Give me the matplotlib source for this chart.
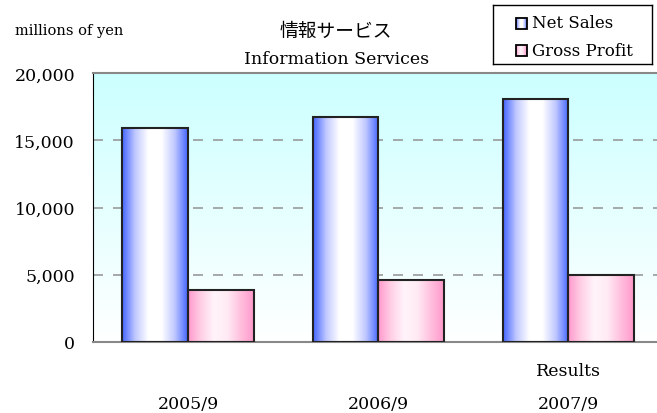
import matplotlib
matplotlib.use('Agg')
import matplotlib.pyplot as plt
import numpy as np
from matplotlib.colors import LinearSegmentedColormap
from matplotlib.patches import Rectangle

# values (millions of yen)
periods = ['2005/9', '2006/9', '2007/9']
net_sales = [15900, 16700, 18100]
gross_profit = [3900, 4600, 5000]

plt.rcParams['font.family'] = ['DejaVu Serif', 'Noto Sans CJK JP']

blue_cm = LinearSegmentedColormap.from_list('b', ['#4466ff', '#c0c8ff', '#ffffff', '#ffffff', '#c0c8ff', '#4466ff'])
pink_cm = LinearSegmentedColormap.from_list('p', ['#ff99cc', '#ffd0e6', '#fff4fa', '#ffeaf4', '#ffc0de', '#ff99cc'])
bg_cm = LinearSegmentedColormap.from_list('bg', ['#ffffff', '#ccffff'])


def fill_gradient(ax, bars, cmap):
    grad = np.linspace(0, 1, 256).reshape(1, -1)
    for b in bars:
        x, y = b.get_x(), b.get_y()
        w, h = b.get_width(), b.get_height()
        im = ax.imshow(grad, cmap=cmap, aspect='auto', extent=[x, x + w, y, y + h],
                       zorder=2, interpolation='bicubic')
        im.set_clip_path(b)
        b.set_facecolor('none')


fig = plt.figure(figsize=(6.57, 4.14), dpi=100)
ax = fig.add_axes([93 / 657, 1 - 343 / 414, 1 - 93 / 657 + 0.01, 269 / 414])

# background gradient
ax.imshow(np.linspace(0, 1, 256).reshape(-1, 1)[::-1], cmap=bg_cm, aspect='auto',
          extent=[0, 1, 0, 1], transform=ax.transAxes, zorder=0)

x = np.arange(len(periods))
w = 0.345
b1 = ax.bar(x - w / 2, net_sales, w, edgecolor='#222222', linewidth=1.5, zorder=3)
b2 = ax.bar(x + w / 2, gross_profit, w, edgecolor='#222222', linewidth=1.5, zorder=3)
fill_gradient(ax, b1, blue_cm)
fill_gradient(ax, b2, pink_cm)

ax.set_xlim(-0.5, 2.5)
ax.set_ylim(0, 20000)
ticks = [0, 5000, 10000, 15000, 20000]
ax.set_yticks(ticks)
ax.set_yticklabels(['{:,}'.format(v) for v in ticks], fontsize=12.5)
for v in ticks[1:-1]:
    ax.axhline(v, color='#999999', linestyle=(0, (6, 6)), linewidth=1.2, zorder=1)

ax.set_xticks(x)
ax.set_xticklabels(periods, fontsize=12.5)
ax.tick_params(axis='x', length=0, pad=38)
ax.tick_params(axis='y', length=0, pad=13)
ax.text(2, -0.105, 'Results', transform=ax.get_xaxis_transform(), ha='center', va='center', fontsize=12.5)

for s in ['top', 'bottom', 'right']:
    ax.spines[s].set_color('#888888')
    ax.spines[s].set_linewidth(1.5)
ax.spines['left'].set_color('black')

fig.text(15 / 657, 1 - 31 / 414, 'millions of yen', fontsize=10.5, va='center')
fig.text(336 / 657, 1 - 31 / 414, '情報サービス', fontsize=13.5, ha='center', va='center',
         family=['Noto Sans CJK JP'])
fig.text(337 / 657, 1 - 60 / 414, 'Information Services', fontsize=12.5, ha='center', va='center')

# legend
lax = fig.add_axes([493 / 657, 1 - 65 / 414, 159 / 657, 59 / 414])
lax.set_xticks([])
lax.set_yticks([])
for s in lax.spines.values():
    s.set_linewidth(1)
grad = np.linspace(0, 1, 64).reshape(1, -1)
for yy, cm, lab in [(18, blue_cm, 'Net Sales'), (45, pink_cm, 'Gross Profit')]:
    lax.imshow(grad, cmap=cm, aspect='auto', extent=[23, 34, yy + 5.5, yy - 5.5], zorder=1)
    lax.add_patch(Rectangle((23, yy - 5.5), 11, 11, fill=False, edgecolor='black', linewidth=1.3, zorder=2))
    lax.text(39, yy, lab, fontsize=12, va='center')
lax.set_xlim(0, 159)
lax.set_ylim(59, 0)

fig.savefig('out.png', dpi=100)
